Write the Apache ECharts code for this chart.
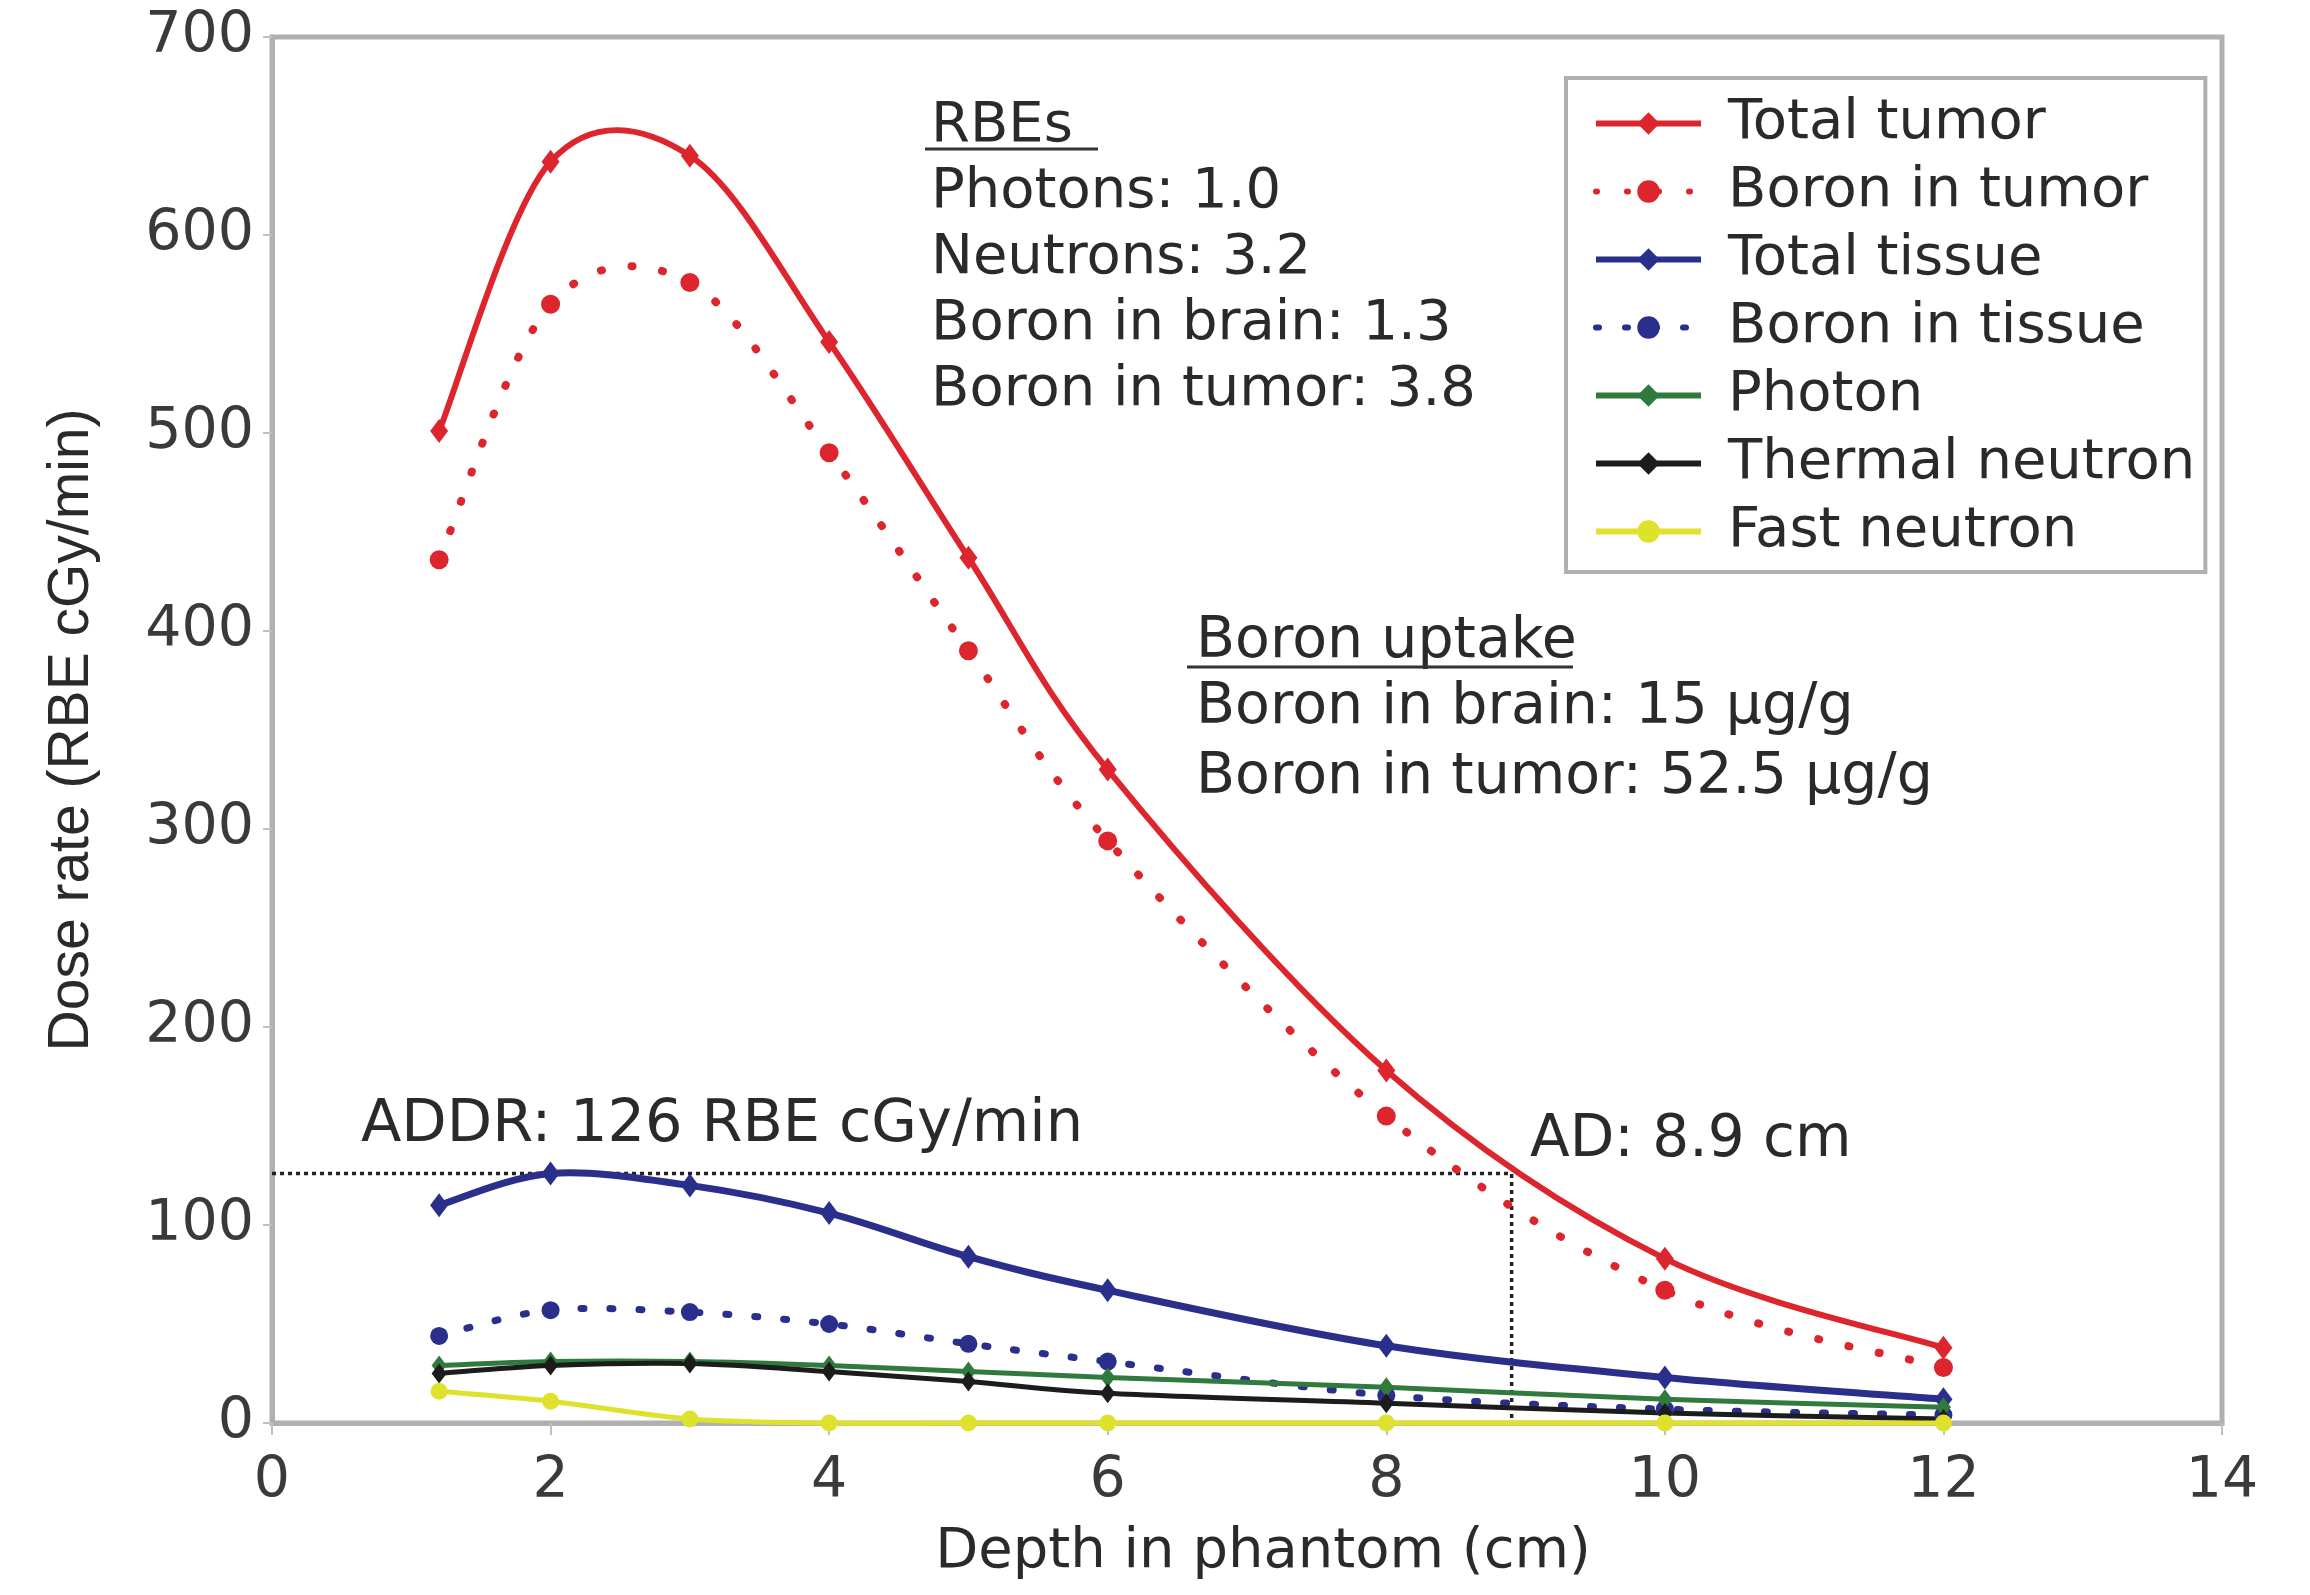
<!DOCTYPE html>
<html>
<head>
<meta charset="utf-8">
<script src="https://cdn.jsdelivr.net/npm/echarts@6/dist/echarts.min.js"></script>
<style>
  html, body { margin: 0; padding: 0; background: #ffffff; }
  #chart { width: 2310px; height: 1595px; }
</style>
</head>
<body>
<div id="chart"></div>
<script>
// Depth in phantom (cm) at which each dose rate was computed
const depths = [1.2, 2, 3, 4, 5, 6, 8, 10, 12];

// Dose rates (RBE cGy/min)
const totalTumor     = [501, 637, 640, 546, 437, 330, 178, 83, 38];
const boronInTumor   = [436, 565, 576, 490, 390, 294, 155, 67, 28];
const totalTissue    = [110, 126, 120, 106, 84, 67, 39, 23, 12];
const boronInTissue  = [44, 57, 56, 50, 40, 31, 14, 7, 4];
const photon         = [29, 31, 31, 29, 26, 23, 18, 12, 8];
const thermalNeutron = [25, 29, 30, 26, 21, 15, 10, 5, 2];
const fastNeutron    = [16, 11, 2, 0, 0, 0, 0, 0, 0];

// Advantage depth and the dose rate that defines it
const addrValue = 126;   // RBE cGy/min
const adDepth = 8.9;     // cm

// Axis ticks
const xTicks = { min: 0, max: 14, interval: 2 };
const yTicks = { min: 0, max: 700, interval: 100 };

// Text blocks
const rbeTitle = 'RBEs';
const rbeLines = ['Photons: 1.0', 'Neutrons: 3.2', 'Boron in brain: 1.3', 'Boron in tumor: 3.8'];
const uptakeTitle = 'Boron uptake';
const uptakeLines = ['Boron in brain: 15 \u03bcg/g', 'Boron in tumor: 52.5 \u03bcg/g'];
const addrText = 'ADDR: ' + addrValue + ' RBE cGy/min';
const adText = 'AD: ' + adDepth + ' cm';
const yTitle = 'Dose rate (RBE cGy/min)';
const xTitle = 'Depth in phantom (cm)';

const FONT = '"DejaVu Sans", "Liberation Sans", sans-serif';
const TXT = '#2a2a2a';

const pairs = vals => depths.map((d, i) => [d, vals[i]]);

// Markers (and legend entries) for one dose component; the curve itself is drawn by spline()
function markers(name, vals, color, width, dash, symbol, size) {
  return {
    name: name,
    type: 'line',
    data: pairs(vals),
    clip: false,
    symbol: symbol,
    symbolSize: size,
    showSymbol: true,
    z: 3,
    lineStyle: { color: color, width: width, type: dash || 'solid', cap: dash ? 'round' : 'butt', opacity: 0 },
    itemStyle: { color: color },
    emphasis: { disabled: true }
  };
}

// Smoothed curve through the points (cubic Bezier, 1/6 tangent rule), in axis coordinates
function spline(vals, color, width, dash) {
  return {
    type: 'custom',
    data: pairs(vals),
    clip: false,
    silent: true,
    z: 2,
    renderItem: function (params, api) {
      if (params.dataIndex !== 0) return null;
      const pts = depths.map((d, i) => api.coord([d, vals[i]]));
      const n = pts.length;
      const f = p => p[0].toFixed(2) + ' ' + p[1].toFixed(2);
      let d = 'M ' + f(pts[0]);
      for (let i = 0; i < n - 1; i++) {
        const p0 = pts[Math.max(i - 1, 0)], p1 = pts[i], p2 = pts[i + 1], p3 = pts[Math.min(i + 2, n - 1)];
        const c1 = [p1[0] + (p2[0] - p0[0]) / 6, p1[1] + (p2[1] - p0[1]) / 6];
        const c2 = [p2[0] - (p3[0] - p1[0]) / 6, p2[1] - (p3[1] - p1[1]) / 6];
        d += ' C ' + f(c1) + ' ' + f(c2) + ' ' + f(p2);
      }
      return {
        type: 'path',
        shape: { pathData: d },
        style: { fill: null, stroke: color, lineWidth: width, lineDash: dash || null, lineCap: dash ? 'round' : 'butt', lineJoin: 'round' }
      };
    }
  };
}

const components = [
  ['Total tumor', totalTumor, '#dc252d', 6, null, 'diamond', [18, 24]],
  ['Boron in tumor', boronInTumor, '#dc252d', 8, [1, 30], 'circle', 19],
  ['Total tissue', totalTissue, '#2b2f8c', 7, null, 'diamond', [18, 24]],
  ['Boron in tissue', boronInTissue, '#2b2f8c', 7, [3, 26], 'circle', 18],
  ['Photon', photon, '#2f7a3c', 5, null, 'diamond', [15, 20]],
  ['Thermal neutron', thermalNeutron, '#1c1c1c', 5, null, 'diamond', [15, 20]],
  ['Fast neutron', fastNeutron, '#dfe22c', 5, null, 'circle', 17]
];

const series = [];
components.forEach(c => series.push(spline(c[1], c[2], c[3], c[4])));
components.forEach(c => series.push(markers.apply(null, c)));
series.push({
  // ADDR / AD guide: across at the tissue maximum, then down at the advantage depth
  name: 'AD guide',
  type: 'line',
  data: [[xTicks.min, addrValue], [adDepth, addrValue], [adDepth, yTicks.min]],
  symbol: 'none',
  clip: false,
  lineStyle: { color: '#222', width: 3.5, type: [4, 4] },
  z: 1,
  emphasis: { disabled: true }
});

const textBlock = [];
const T = (txt, x, y, size) => ({ type: 'text', x: x, y: y, style: { text: txt, font: size + 'px ' + FONT, fill: TXT, align: 'left', verticalAlign: 'middle' } });
textBlock.push(T(rbeTitle, 931, 126, 56));
rbeLines.forEach((t, i) => textBlock.push(T(t, 931, 192 + i * 66, 56)));
textBlock.push({ type: 'line', shape: { x1: 925, y1: 149, x2: 1098, y2: 149 }, style: { stroke: '#333', lineWidth: 3 } });

textBlock.push(T(uptakeTitle, 1196, 642, 57));
uptakeLines.forEach((t, i) => textBlock.push(T(t, 1196, 708 + i * 70, 57)));
textBlock.push({ type: 'line', shape: { x1: 1187, y1: 667, x2: 1573, y2: 667 }, style: { stroke: '#333', lineWidth: 3 } });

textBlock.push(T(addrText, 361, 1126, 59));
textBlock.push(T(adText, 1530, 1141, 58));

// Axis titles
textBlock.push({
  type: 'text', x: 72, y: 730, rotation: Math.PI / 2,
  style: { text: yTitle, font: '57px "Liberation Sans", Arial, sans-serif', fill: TXT, align: 'center', verticalAlign: 'middle' }
});
textBlock.push({
  type: 'text', x: 1263, y: 1552,
  style: { text: xTitle, font: '56px ' + FONT, fill: TXT, align: 'center', verticalAlign: 'middle' }
});

const chart = echarts.init(document.getElementById('chart'), null, { renderer: 'canvas' });
chart.setOption({
  backgroundColor: '#ffffff',
  animation: false,
  grid: {
    left: 272, right: 88, top: 37, bottom: 172,
    show: true, borderColor: '#b0b0b0', borderWidth: 5, backgroundColor: 'transparent'
  },
  legend: {
    data: components.map(c => c[0]),
    orient: 'vertical',
    left: 1566, top: 78,
    width: 641,
    padding: [14, 10, 9, 27],
    itemWidth: 105,
    itemHeight: 28,
    itemGap: 5,
    borderColor: '#b0b0b0',
    borderWidth: 4,
    backgroundColor: '#ffffff',
    lineStyle: { opacity: 1, width: 6 },
    textStyle: { fontFamily: FONT, fontSize: 56, color: TXT, lineHeight: 63, padding: [0, 0, 0, 22] },
    selectedMode: false
  },
  xAxis: {
    type: 'value',
    min: xTicks.min, max: xTicks.max, interval: xTicks.interval,
    axisLine: { lineStyle: { color: '#b0b0b0', width: 5 } },
    axisTick: { show: true, length: 12, lineStyle: { color: '#c0c0c0', width: 2 } },
    axisLabel: { margin: 31, fontFamily: FONT, fontSize: 57, color: '#3a3a3a' },
    splitLine: { show: false }
  },
  yAxis: {
    type: 'value',
    min: yTicks.min, max: yTicks.max, interval: yTicks.interval,
    axisLine: { lineStyle: { color: '#b0b0b0', width: 5 } },
    axisTick: { show: true, length: 9, lineStyle: { color: '#c0c0c0', width: 2 } },
    axisLabel: { margin: 18, fontFamily: FONT, fontSize: 57, color: '#3a3a3a' },
    splitLine: { show: false }
  },
  series: series,
  graphic: textBlock
});
</script>
</body>
</html>
